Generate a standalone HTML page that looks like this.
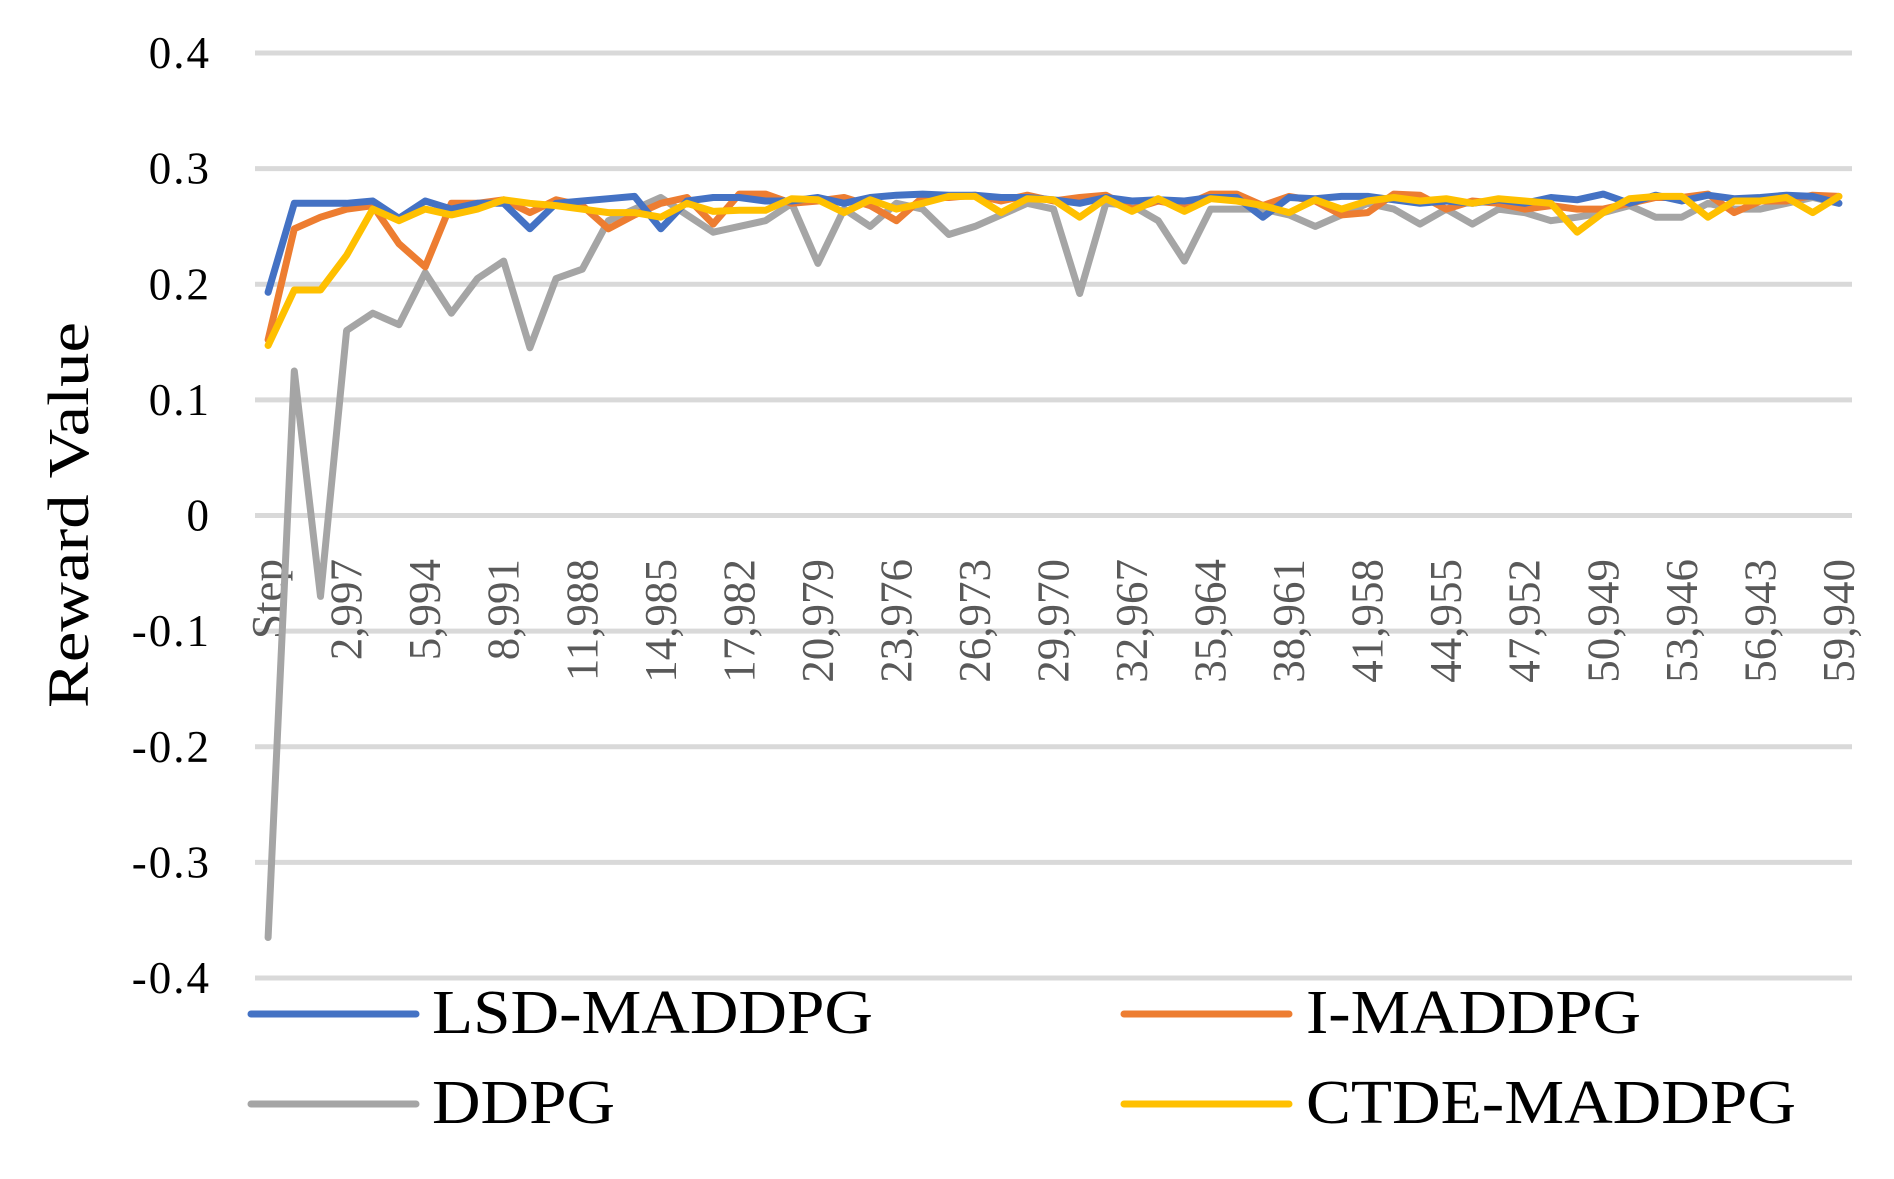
<!DOCTYPE html>
<html><head><meta charset="utf-8"><style>
html,body{margin:0;padding:0;background:#fff;}
svg{display:block;font-family:"Liberation Serif",serif;}
</style></head><body>
<svg id="chart" width="1894" height="1179" viewBox="0 0 1894 1179" xmlns="http://www.w3.org/2000/svg">
<g id="grid"></g>
<g id="yticks"></g>
<g id="xticks"></g>
<g id="series"></g>
<text transform="translate(88,515) rotate(-90)" text-anchor="middle" font-size="58" textLength="386" lengthAdjust="spacingAndGlyphs" fill="#000">Reward Value</text>
<g>
<g><line x1="251" y1="1014" x2="416" y2="1014" stroke="#4472c4" stroke-width="7" stroke-linecap="round"/><text x="432" y="1033" font-size="62" textLength="441" lengthAdjust="spacingAndGlyphs">LSD-MADDPG</text></g>
<g><line x1="1124" y1="1014" x2="1289" y2="1014" stroke="#ed7d31" stroke-width="7" stroke-linecap="round"/><text x="1306" y="1033" font-size="62" textLength="335" lengthAdjust="spacingAndGlyphs">I-MADDPG</text></g>
<g><line x1="251" y1="1104" x2="416" y2="1104" stroke="#a5a5a5" stroke-width="7" stroke-linecap="round"/><text x="432" y="1123" font-size="62" textLength="183" lengthAdjust="spacingAndGlyphs">DDPG</text></g>
<g><line x1="1124" y1="1104" x2="1289" y2="1104" stroke="#ffc000" stroke-width="7" stroke-linecap="round"/><text x="1306" y="1123" font-size="62" textLength="490" lengthAdjust="spacingAndGlyphs">CTDE-MADDPG</text></g>
</g>
</svg>
<script>
const yTicks=[0.4,0.3,0.2,0.1,0,-0.1,-0.2,-0.3,-0.4];
const yTickLabels=["0.4","0.3","0.2","0.1","0","-0.1","-0.2","-0.3","-0.4"];
const nCats=61;
const stepSize=999;
const lsd=[.193,.27,.27,.27,.272,.257,.272,.265,.27,.27,.248,.27,.272,.274,.276,.248,.272,.275,.275,.272,.272,.275,.27,.275,.277,.278,.277,.277,.275,.275,.273,.27,.275,.272,.273,.272,.275,.275,.258,.275,.274,.276,.276,.273,.27,.272,.27,.273,.27,.275,.273,.278,.27,.277,.272,.277,.274,.275,.277,.276,.27];
const imad=[.152,.248,.258,.265,.268,.235,.215,.27,.27,.273,.262,.273,.268,.248,.26,.27,.275,.252,.278,.278,.27,.272,.275,.268,.255,.275,.275,.277,.272,.277,.272,.275,.277,.265,.272,.268,.278,.278,.268,.276,.272,.26,.262,.278,.277,.265,.272,.27,.265,.268,.265,.265,.27,.275,.275,.278,.262,.272,.272,.277,.276];
const ddpg=[-.365,.125,-.07,.16,.175,.165,.21,.175,.205,.22,.145,.205,.213,.255,.265,.275,.26,.245,.25,.255,.27,.218,.265,.25,.27,.265,.243,.25,.26,.27,.265,.192,.27,.268,.255,.22,.265,.265,.265,.26,.25,.26,.27,.265,.252,.265,.252,.265,.262,.255,.258,.262,.268,.258,.258,.27,.265,.265,.27,.275,.27];
const ctde=[.147,.195,.195,.225,.265,.255,.265,.26,.265,.273,.27,.268,.265,.262,.262,.258,.27,.263,.264,.264,.274,.273,.262,.273,.265,.27,.276,.276,.262,.274,.273,.258,.274,.263,.274,.263,.274,.272,.268,.262,.273,.265,.272,.275,.272,.274,.27,.274,.272,.27,.245,.262,.274,.276,.276,.258,.272,.272,.275,.262,.276];
const seriesData=[["ddpg",ddpg,"#a5a5a5"],["i-maddpg",imad,"#ed7d31"],["lsd-maddpg",lsd,"#4472c4"],["ctde-maddpg",ctde,"#ffc000"]];
const ns="http://www.w3.org/2000/svg";
const X0=255,X1=1852,Y0=53,Y1=978;
function yScale(v){return Y0+(0.4-v)/0.8*(Y1-Y0);}
function xScale(i){return X0+(i+0.5)*(X1-X0)/nCats;}
const grid=document.getElementById('grid'),yt=document.getElementById('yticks'),xt=document.getElementById('xticks'),sg=document.getElementById('series');
yTicks.forEach((v,k)=>{
 const l=document.createElementNS(ns,'line');
 l.setAttribute('x1',X0);l.setAttribute('x2',X1);l.setAttribute('y1',yScale(v));l.setAttribute('y2',yScale(v));
 l.setAttribute('stroke','#d9d9d9');l.setAttribute('stroke-width','5');
 
 
 grid.appendChild(l);
 const t=document.createElementNS(ns,'text');
 t.setAttribute('x',211);t.setAttribute('y',yScale(v)+15);t.setAttribute('text-anchor','end');t.setAttribute('font-size','45');t.setAttribute('letter-spacing','2');
 t.textContent=yTickLabels[k];
 
 
 yt.appendChild(t);
});
for(let i=0;i<nCats;i+=3){
 const t=document.createElementNS(ns,'text');
 const x=xScale(i)+15;
 t.setAttribute('transform','translate('+x+',559) rotate(-90)');
 t.setAttribute('text-anchor','end');t.setAttribute('font-size','45');t.setAttribute('fill','#595959');
 t.textContent=i===0?'Step':(i*stepSize).toLocaleString('en-US');
 
 
 xt.appendChild(t);
}
seriesData.forEach(([name,vals,col])=>{
 const p=document.createElementNS(ns,'polyline');
 p.setAttribute('points',vals.map((v,i)=>xScale(i).toFixed(1)+','+yScale(v).toFixed(1)).join(' '));
 p.setAttribute('fill','none');p.setAttribute('stroke',col);p.setAttribute('stroke-width','7');p.setAttribute('stroke-linejoin','round');p.setAttribute('stroke-linecap','round');
 
 
 sg.appendChild(p);
});
</script>
</body></html>
